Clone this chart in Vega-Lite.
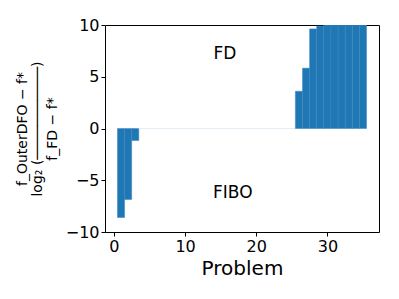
{
  "$schema": "https://vega.github.io/schema/vega-lite/v6.json",
  "width": 274,
  "height": 207,
  "autosize": {"type": "none"},
  "padding": {"left": 105, "top": 25, "right": 20, "bottom": 67},
  "background": "white",
  "config": {
    "view": {"stroke": "#000000", "strokeWidth": 1},
    "font": "DejaVu Sans"
  },
  "datasets": {
    "bars": [
      {"problem": 1, "value": -8.6},
      {"problem": 2, "value": -6.86},
      {"problem": 3, "value": -1.16},
      {"problem": 4, "value": 0},
      {"problem": 5, "value": 0},
      {"problem": 6, "value": 0},
      {"problem": 7, "value": 0},
      {"problem": 8, "value": 0},
      {"problem": 9, "value": 0},
      {"problem": 10, "value": 0},
      {"problem": 11, "value": 0},
      {"problem": 12, "value": 0},
      {"problem": 13, "value": 0},
      {"problem": 14, "value": 0},
      {"problem": 15, "value": 0},
      {"problem": 16, "value": 0},
      {"problem": 17, "value": 0},
      {"problem": 18, "value": 0},
      {"problem": 19, "value": 0},
      {"problem": 20, "value": 0},
      {"problem": 21, "value": 0},
      {"problem": 22, "value": 0},
      {"problem": 23, "value": 0},
      {"problem": 24, "value": 0},
      {"problem": 25, "value": 0},
      {"problem": 26, "value": 3.6},
      {"problem": 27, "value": 5.83},
      {"problem": 28, "value": 9.62},
      {"problem": 29, "value": 9.9},
      {"problem": 30, "value": 10},
      {"problem": 31, "value": 10},
      {"problem": 32, "value": 10},
      {"problem": 33, "value": 10},
      {"problem": 34, "value": 10},
      {"problem": 35, "value": 10}
    ],
    "labels": [
      {"x": 15.6, "y": 7.2, "text": "FD"},
      {"x": 16.7, "y": -6.25, "text": "FIBO"}
    ]
  },
  "layer": [
    {
      "data": {"name": "bars"},
      "transform": [
        {"calculate": "datum.problem - 0.5", "as": "x0"},
        {"calculate": "datum.problem + 0.5", "as": "x1"},
        {"calculate": "0", "as": "base"}
      ],
      "mark": {"type": "rect", "color": "#1f77b4", "strokeWidth": 0.5, "clip": true},
      "encoding": {
        "x": {
          "field": "x0", "type": "quantitative",
          "scale": {"domain": [-1.25, 37.25], "nice": false, "zero": false},
          "axis": {
            "values": [0, 10, 20, 30],
            "title": "Problem",
            "titleFontSize": 20,
            "titleFontWeight": "normal",
            "titleColor": "#000000",
            "titlePadding": 4,
            "labelFontSize": 16,
            "labelColor": "#000000",
            "labelPadding": 2,
            "tickColor": "#000000",
            "tickSize": 4,
            "domain": false,
            "grid": false
          }
        },
        "x2": {"field": "x1"},
        "y": {
          "field": "value", "type": "quantitative",
          "scale": {"domain": [-10, 10], "nice": false},
          "axis": {
            "values": [-10, -5, 0, 5, 10],
            "labelExpr": "replace(datum.label, '-', '\u2212')",
            "title": ["f_OuterDFO \u2212 f*", "log\u2082 (\u2500\u2500\u2500\u2500\u2500\u2500\u2500\u2500\u2500\u2500\u2500)", "f_FD \u2212 f*"],
            "titleFontSize": 14,
            "titleFontWeight": "normal",
            "titleColor": "#000000",
            "titleLineHeight": 15,
            "titlePadding": 6,
            "labelFontSize": 16,
            "labelColor": "#000000",
            "labelPadding": 2,
            "tickColor": "#000000",
            "tickSize": 4,
            "domain": false,
            "grid": false
          }
        },
        "y2": {"field": "base"},
        "stroke": {
          "condition": {"test": "datum.value == 0", "value": "#dbe8f4"},
          "value": "#3a87c0"
        }
      }
    },
    {
      "data": {"name": "labels"},
      "mark": {"type": "text", "fontSize": 17, "color": "#000000", "align": "center", "baseline": "middle"},
      "encoding": {
        "x": {"field": "x", "type": "quantitative"},
        "y": {"field": "y", "type": "quantitative"},
        "text": {"field": "text"}
      }
    }
  ]
}
